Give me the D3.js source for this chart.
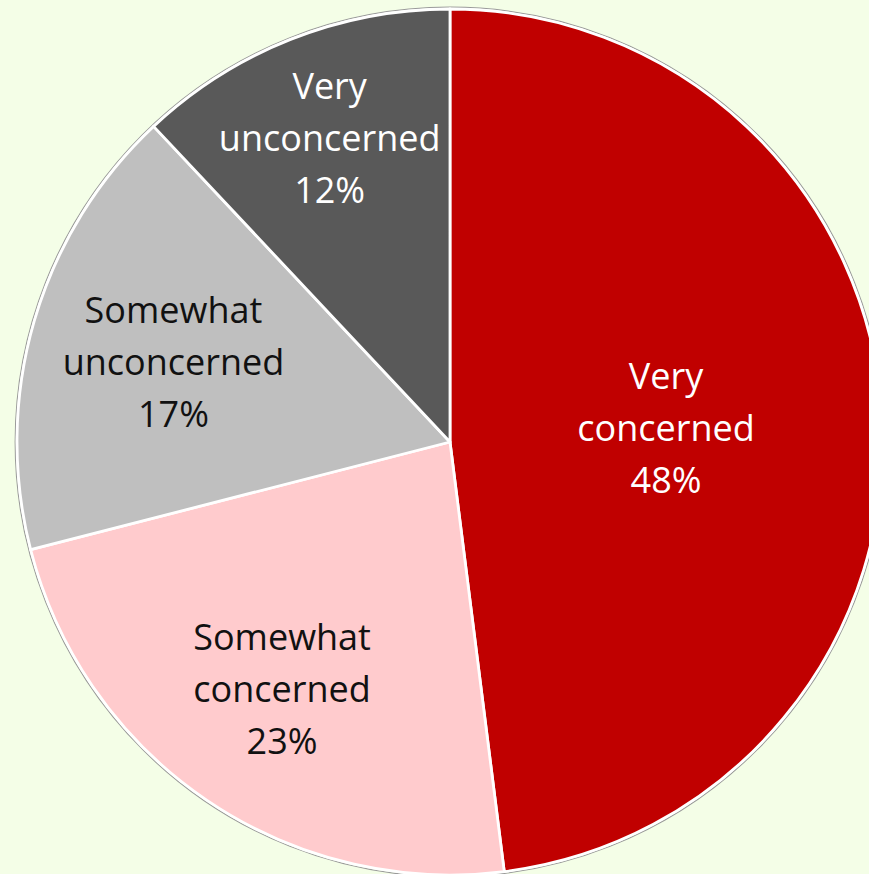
<!DOCTYPE html>
<html>
<head>
<meta charset="utf-8">
<script src="https://cdn.jsdelivr.net/npm/d3@7"></script>
<style>
  html, body { margin: 0; padding: 0; background: #F4FEE7; overflow: hidden; }
  svg { display: block; }
</style>
</head>
<body>
<svg id="chart" width="869" height="874"></svg>
<script>
// Survey responses: level of concern
const categories = ["Very concerned", "Somewhat concerned", "Somewhat unconcerned", "Very unconcerned"];
const labelLines = [["Very", "concerned"], ["Somewhat", "concerned"], ["Somewhat", "unconcerned"], ["Very", "unconcerned"]];
const values = [48, 23, 17, 12];
const sliceColors = ["#C00000", "#FFCBCD", "#BFBFBF", "#595959"];
const textColors = ["#FFFFFF", "#111111", "#111111", "#FFFFFF"];
// label distance from centre, as a share of the radius
const labelRadius = [0.50, 0.69, 0.665, 0.755];

const svg = d3.select("#chart");
const cx = 450, cy = 442, R = 433;
const g = svg.append("g").attr("transform", `translate(${cx},${cy})`);

const pie = d3.pie().sort(null).value(d => d);
const arcs = pie(values);
const arc = d3.arc().innerRadius(0).outerRadius(R);

// thin grey rim around the pie
g.append("circle").attr("r", R + 1.8).attr("fill", "none")
  .attr("stroke", "#9a9a9a").attr("stroke-width", 1.2);

g.selectAll("path.slice").data(arcs).join("path")
  .attr("class", "slice")
  .attr("d", arc)
  .attr("fill", (d, i) => sliceColors[i])
  .attr("stroke", "#FFFFFF")
  .attr("stroke-width", 2.8)
  .attr("stroke-linejoin", "round");

const fontSize = 36, lineH = 52;
const labels = g.selectAll("text.lbl").data(arcs).join("text")
  .attr("class", "lbl")
  .attr("text-anchor", "middle")
  .attr("font-family", "'Open Sans', sans-serif")
  .attr("font-size", fontSize)
  .attr("fill", (d, i) => textColors[i])
  .attr("transform", (d, i) => {
    const a = (d.startAngle + d.endAngle) / 2;
    const r = R * labelRadius[i];
    return `translate(${r * Math.sin(a)},${-r * Math.cos(a)})`;
  });

labels.each(function (d, i) {
  const lines = labelLines[i].concat([d3.format(".0f")(d.value) + "%"]);
  const t = d3.select(this);
  lines.forEach((s, k) => {
    t.append("tspan").attr("x", 0)
      .attr("y", (k - 1) * lineH + 13)
      .text(s);
  });
});
</script>
</body>
</html>
